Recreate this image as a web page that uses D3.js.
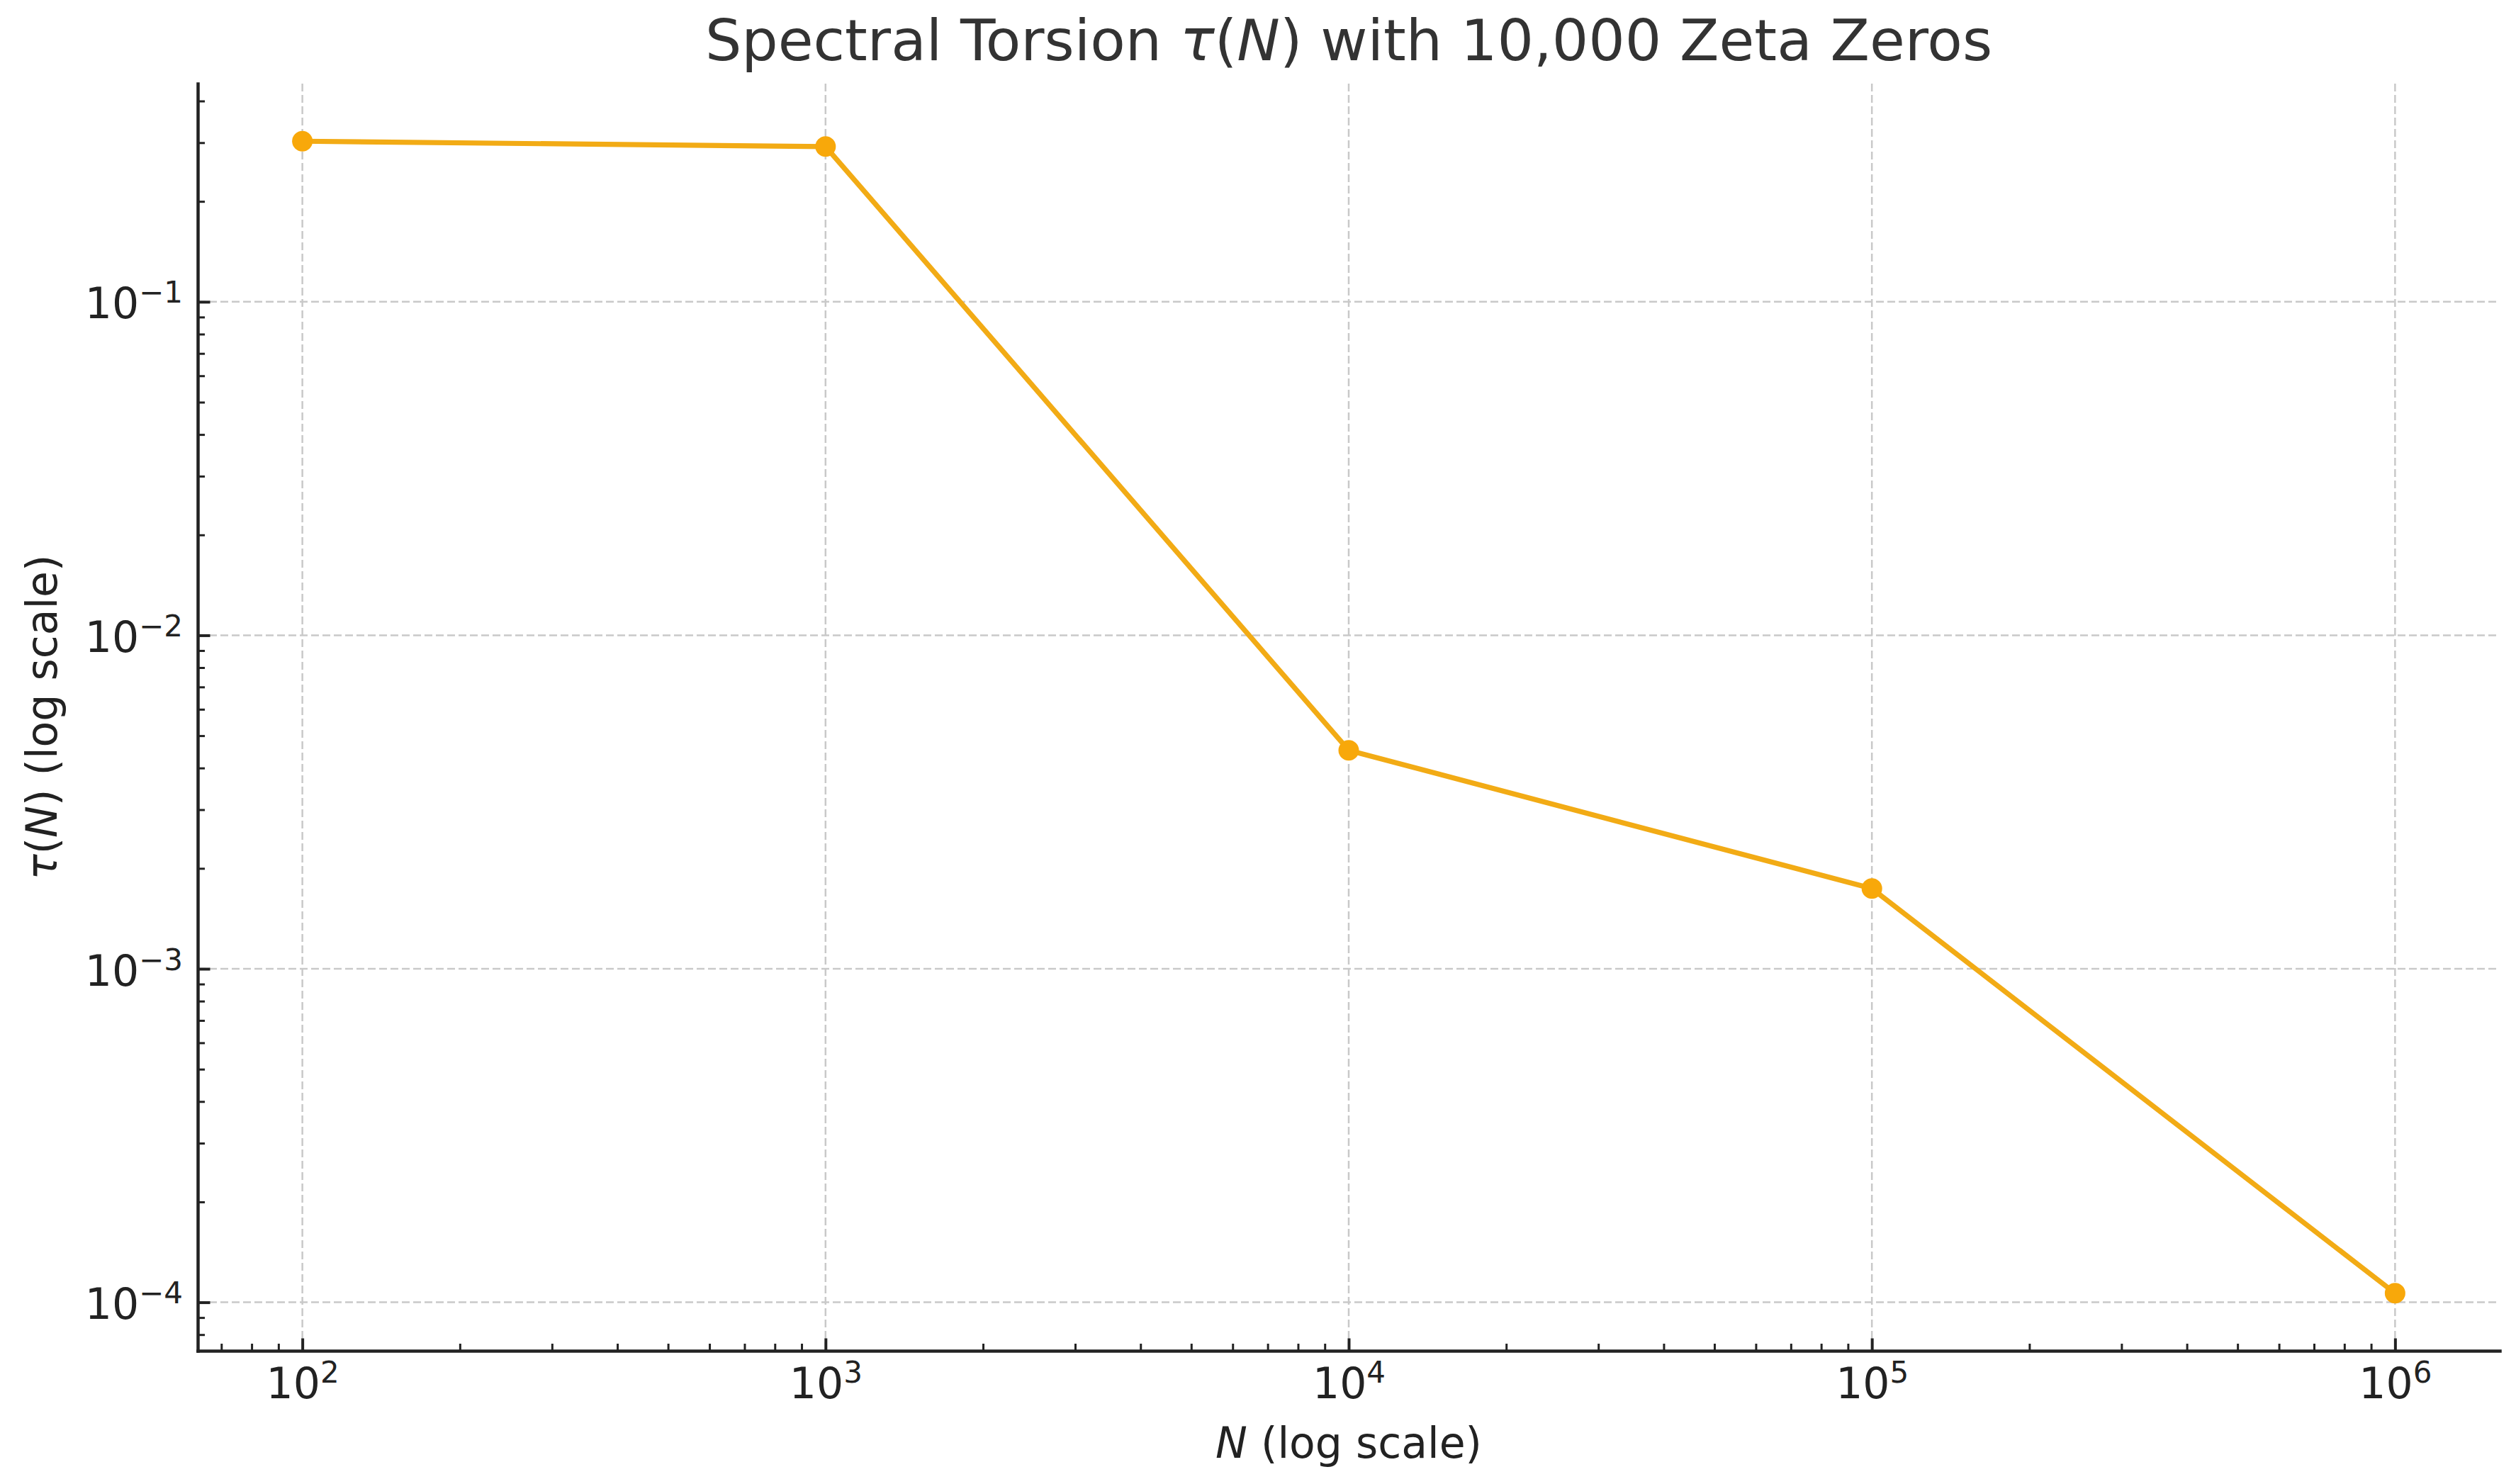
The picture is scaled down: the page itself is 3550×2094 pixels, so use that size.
<!DOCTYPE html>
<html>
<head>
<meta charset="utf-8">
<script src="https://cdn.jsdelivr.net/npm/d3@7"></script>
<style>
  html, body { margin: 0; padding: 0; background: #ffffff; }
  svg { display: block; }
  text { font-family: "DejaVu Sans", sans-serif; }
</style>
</head>
<body>
<script>
// ---------- data ----------
const N = [100, 1000, 10000, 100000, 1000000];
const tau = [0.303, 0.292, 0.00452, 0.00174, 0.0001065];
const xTickExps = [2, 3, 4, 5, 6];
const yTickExps = [-1, -2, -3, -4];
const titleParts = [["Spectral Torsion ", false], ["τ", true], ["(", false], ["N", true], [") with 10,000 Zeta Zeros", false]];
const xLabelParts = [["N", true], [" (log scale)", false]];
const yLabelParts = [["τ", true], ["(", false], ["N", true], [") (log scale)", false]];

// ---------- layout ----------
const W = 3550, H = 2094;
const plot = { left: 279, right: 3527, top: 118, bottom: 1906 };
const lineColor = "#f2ab15";
const markerColor = "#f8a80a";
const inkColor = "#222222";
const gridColor = "#c9c9c9";

function paddedLogDomain(vals, frac) {
  const lo = Math.log10(d3.min(vals)), hi = Math.log10(d3.max(vals));
  const pad = (hi - lo) * frac;
  return [Math.pow(10, lo - pad), Math.pow(10, hi + pad)];
}

const x = d3.scaleLog().domain(paddedLogDomain(N, 0.05)).range([plot.left, plot.right]);
const y = d3.scaleLog().domain(paddedLogDomain(tau, 0.05)).range([plot.bottom, plot.top]);

function minorTicks(scale) {
  const [a, b] = scale.domain();
  const out = [];
  for (let e = Math.floor(Math.log10(a)); e <= Math.ceil(Math.log10(b)); e++) {
    for (let m = 2; m <= 9; m++) {
      const v = m * Math.pow(10, e);
      if (v >= a && v <= b) out.push(v);
    }
  }
  return out;
}

const svg = d3.select("body").append("svg").attr("width", W).attr("height", H);

// ---------- grid ----------
const grid = svg.append("g");
grid.selectAll("line.gx").data(xTickExps).enter().append("line")
  .attr("x1", d => x(Math.pow(10, d))).attr("x2", d => x(Math.pow(10, d)))
  .attr("y1", plot.top).attr("y2", plot.bottom)
  .attr("stroke", gridColor).attr("stroke-width", 2.5).attr("stroke-dasharray", "11,5");
grid.selectAll("line.gy").data(yTickExps).enter().append("line")
  .attr("x1", plot.left).attr("x2", plot.right)
  .attr("y1", d => y(Math.pow(10, d))).attr("y2", d => y(Math.pow(10, d)))
  .attr("stroke", gridColor).attr("stroke-width", 2.5).attr("stroke-dasharray", "11,5");

// ---------- data line & markers ----------
const pts = N.map((n, i) => ({ n, t: tau[i] }));
svg.append("path").datum(pts)
  .attr("fill", "none").attr("stroke", lineColor).attr("stroke-width", 7.2)
  .attr("stroke-linejoin", "round").attr("stroke-linecap", "round")
  .attr("d", d3.line().x(d => x(d.n)).y(d => y(d.t)));
svg.selectAll("circle.pt").data(pts).enter().append("circle")
  .attr("cx", d => x(d.n)).attr("cy", d => y(d.t)).attr("r", 14.5)
  .attr("fill", markerColor);

// ---------- axes ----------
function styleAxis(g, width) {
  g.selectAll("path.domain").attr("stroke", inkColor).attr("stroke-width", 4.5).attr("stroke-linecap", "square");
  g.selectAll(".tick line").attr("stroke", inkColor).attr("stroke-width", width);
  g.selectAll(".tick text").remove();
}

// x minor
const gxMinor = svg.append("g").attr("transform", `translate(0,${plot.bottom})`)
  .call(d3.axisBottom(x).tickValues(minorTicks(x)).tickSizeInner(-10).tickSizeOuter(0).tickFormat(() => ""));
gxMinor.select("path.domain").remove();
styleAxis(gxMinor, 3);
// y minor
const gyMinor = svg.append("g").attr("transform", `translate(${plot.left},0)`)
  .call(d3.axisLeft(y).tickValues(minorTicks(y)).tickSizeInner(-10).tickSizeOuter(0).tickFormat(() => ""));
gyMinor.select("path.domain").remove();
styleAxis(gyMinor, 3);

// x major
const gx = svg.append("g").attr("transform", `translate(0,${plot.bottom})`)
  .call(d3.axisBottom(x).tickValues(xTickExps.map(e => Math.pow(10, e))).tickSizeInner(-17.5).tickSizeOuter(0).tickFormat(() => ""));
styleAxis(gx, 4);
gx.selectAll(".tick").each(function(d) {
  const e = Math.round(Math.log10(d));
  const t = d3.select(this).append("text")
    .attr("y", 67).attr("text-anchor", "middle").attr("fill", inkColor)
    .attr("font-size", 60);
  t.append("tspan").text("10");
  t.append("tspan").attr("dy", -22).attr("font-size", 42).text(String(e));
});

// y major
const gy = svg.append("g").attr("transform", `translate(${plot.left},0)`)
  .call(d3.axisLeft(y).tickValues(yTickExps.map(e => Math.pow(10, e))).tickSizeInner(-17.5).tickSizeOuter(0).tickFormat(() => ""));
styleAxis(gy, 4);
gy.selectAll(".tick").each(function(d) {
  const e = Math.round(Math.log10(d));
  const t = d3.select(this).append("text")
    .attr("x", -21).attr("y", 23).attr("text-anchor", "end").attr("fill", inkColor)
    .attr("font-size", 60);
  t.append("tspan").text("10");
  t.append("tspan").attr("dy", -22).attr("font-size", 42).text("\u2212" + String(Math.abs(e)));
});

// ---------- texts ----------
function richText(sel, parts) {
  parts.forEach(([s, it]) => {
    const ts = sel.append("tspan").text(s);
    if (it) ts.attr("font-style", "italic");
  });
  return sel;
}
const cx = (plot.left + plot.right) / 2;
const cy = (plot.top + plot.bottom) / 2;

richText(svg.append("text").attr("x", cx).attr("y", 85).attr("text-anchor", "middle")
  .attr("font-size", 81).attr("fill", "#333333"), titleParts);

richText(svg.append("text").attr("x", cx).attr("y", 2057).attr("text-anchor", "middle")
  .attr("font-size", 60).attr("fill", inkColor), xLabelParts);

richText(svg.append("text").attr("transform", `translate(80,${cy}) rotate(-90)`).attr("text-anchor", "middle")
  .attr("font-size", 60).attr("fill", inkColor), yLabelParts);
</script>
</body>
</html>
